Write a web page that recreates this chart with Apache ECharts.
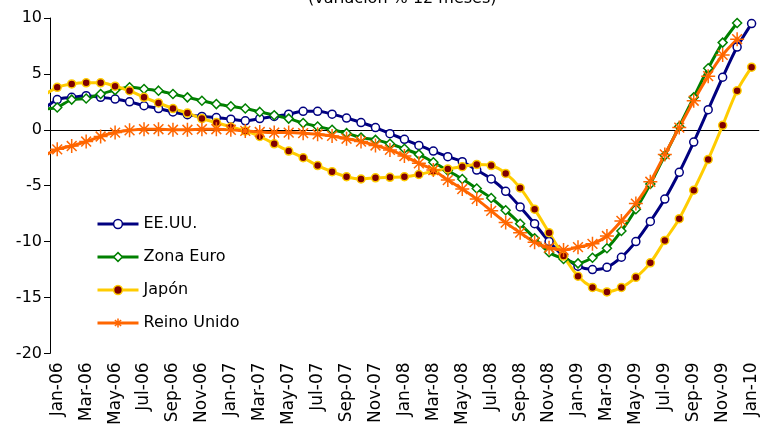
<!DOCTYPE html>
<html>
<head>
<meta charset="utf-8">
<script src="https://cdn.jsdelivr.net/npm/echarts@6/dist/echarts.min.js"></script>
<style>
  html, body { margin: 0; padding: 0; background: #fff; }
  #chart { width: 760px; height: 428px; }
</style>
</head>
<body>
<div id="chart"></div>
<script>
// meses (Dec-05 solo asoma a la izquierda del eje)
const months = [
  'Dec-05',
  'Jan-06', 'Feb-06', 'Mar-06', 'Apr-06', 'May-06', 'Jun-06', 'Jul-06', 'Aug-06', 'Sep-06', 'Oct-06', 'Nov-06', 'Dec-06',
  'Jan-07', 'Feb-07', 'Mar-07', 'Apr-07', 'May-07', 'Jun-07', 'Jul-07', 'Aug-07', 'Sep-07', 'Oct-07', 'Nov-07', 'Dec-07',
  'Jan-08', 'Feb-08', 'Mar-08', 'Apr-08', 'May-08', 'Jun-08', 'Jul-08', 'Aug-08', 'Sep-08', 'Oct-08', 'Nov-08', 'Dec-08',
  'Jan-09', 'Feb-09', 'Mar-09', 'Apr-09', 'May-09', 'Jun-09', 'Jul-09', 'Aug-09', 'Sep-09', 'Oct-09', 'Nov-09', 'Dec-09',
  'Jan-10'
]

const eeuu = [1.8,
  2.7, 2.9, 3.05, 2.9, 2.75, 2.5, 2.15, 1.9, 1.6, 1.35, 1.2, 1.1,
  0.95, 0.8, 1.0, 1.2, 1.4, 1.65, 1.65, 1.4, 1.05, 0.65, 0.2, -0.35,
  -0.85, -1.4, -1.9, -2.4, -2.85, -3.6, -4.4, -5.5, -6.9, -8.4, -10.0, -11.3,
  -12.2, -12.5, -12.3, -11.4, -10.0, -8.2, -6.2, -3.8, -1.1, 1.8, 4.7, 7.4,
  9.5]

const zonaEuro = [1.85,
  2.0, 2.7, 2.8, 3.2, 3.55, 3.8, 3.65, 3.5, 3.2, 2.9, 2.6, 2.3,
  2.1, 1.9, 1.6, 1.3, 1.0, 0.6, 0.3, 0.0, -0.3, -0.7, -0.9, -1.25,
  -1.7, -2.2, -2.9, -3.65, -4.4, -5.25, -6.1, -7.2, -8.4, -9.7, -10.95, -11.55,
  -11.95, -11.45, -10.6, -9.05, -7.1, -4.85, -2.3, 0.3, 2.9, 5.5, 7.8, 9.55,
  null]

const japon = [3.0,
  3.8, 4.1, 4.2, 4.2, 3.9, 3.5, 2.9, 2.4, 1.9, 1.5, 1.0, 0.65,
  0.25, -0.1, -0.6, -1.25, -1.9, -2.5, -3.2, -3.75, -4.2, -4.4, -4.3, -4.25,
  -4.2, -4.0, -3.7, -3.5, -3.3, -3.1, -3.2, -3.9, -5.2, -7.1, -9.2, -11.3,
  -13.1, -14.1, -14.5, -14.1, -13.2, -11.9, -9.9, -7.95, -5.4, -2.65, 0.4, 3.5,
  5.6]

const reinoUnido = [-2.4,
  -1.75, -1.45, -1.05, -0.6, -0.25, -0.05, 0.05, 0.05, 0.0, 0.0, 0.05, 0.05,
  0.0, -0.1, -0.2, -0.25, -0.25, -0.3, -0.4, -0.55, -0.8, -1.05, -1.4, -1.8,
  -2.35, -3.0, -3.6, -4.5, -5.3, -6.2, -7.25, -8.3, -9.2, -10.05, -10.55, -10.75,
  -10.5, -10.2, -9.5, -8.15, -6.6, -4.65, -2.2, 0.2, 2.6, 4.8, 6.7, 8.1,
  null]

const yTicks = { min: -20, max: 10, interval: 5 }

const font = 'DejaVu Sans'
const asterisk = 'path://M5 0L5 10M0 5L10 5M1.5 1.5L8.5 8.5M8.5 1.5L1.5 8.5'

function everyOther(index) {
  return index % 2 === 1
}

function lineSeries(name, data, color, symbol, symbolSize, itemStyle) {
  return {
    name: name,
    type: 'line',
    data: data,
    xAxisIndex: 0,
    smooth: 0.3,
    symbol: symbol,
    symbolSize: symbolSize,
    showAllSymbol: true,
    lineStyle: { color: color, width: 3 },
    itemStyle: itemStyle,
    emphasis: { disabled: true }
  }
}

const chart = echarts.init(document.getElementById('chart'))
chart.setOption({
  animation: false,
  title: {
    text: '(variación % 12 meses)',
    left: 303,
    top: -14,
    textStyle: { fontFamily: font, fontSize: 16, fontWeight: 'normal', color: '#000' }
  },
  grid: { left: 50, top: 18, width: 718, height: 336 },
  legend: {
    orient: 'vertical',
    left: 91,
    top: 211,
    itemWidth: 41,
    itemHeight: 11,
    itemGap: 17,
    itemStyle: { borderWidth: 1.5 },
    lineStyle: { width: 3 },
    textStyle: { fontFamily: font, fontSize: 16, color: '#000' },
    data: ['EE.UU.', 'Zona Euro', 'Japón', 'Reino Unido']
  },
  xAxis: [
    {
      type: 'category',
      data: months,
      min: 1,
      boundaryGap: true,
      position: 'bottom',
      axisLine: { show: false, onZero: false },
      axisTick: { show: false },
      axisLabel: {
        rotate: 90,
        interval: everyOther,
        margin: 9,
        fontFamily: font,
        fontSize: 17,
        color: '#000'
      }
    },
    {
      type: 'category',
      data: months,
      min: 1,
      boundaryGap: true,
      position: 'bottom',
      axisLine: { onZero: true, lineStyle: { color: '#000', width: 1 } },
      axisTick: { interval: everyOther, length: 6, lineStyle: { color: '#000' } },
      axisLabel: { show: false }
    }
  ],
  yAxis: {
    type: 'value',
    min: yTicks.min,
    max: yTicks.max,
    interval: yTicks.interval,
    axisLine: { show: true, lineStyle: { color: '#000', width: 1 } },
    axisTick: { show: true, length: 6, lineStyle: { color: '#000' } },
    splitLine: { show: false },
    axisLabel: { margin: 8, fontFamily: font, fontSize: 16, color: '#000' }
  },
  series: [
    lineSeries('EE.UU.', eeuu, '#000080', 'circle', 8,
      { color: '#fff', borderColor: '#000080', borderWidth: 1.5 }),
    lineSeries('Zona Euro', zonaEuro, '#008000', 'diamond', 9,
      { color: '#fff', borderColor: '#008000', borderWidth: 1.5 }),
    lineSeries('Japón', japon, '#FFCC00', 'circle', 8,
      { color: '#800000', borderColor: '#FFCC00', borderWidth: 1.5 }),
    lineSeries('Reino Unido', reinoUnido, '#FF6600', asterisk, 14,
      { color: '#FF6600', borderColor: '#FF6600', borderWidth: 1.5 })
  ]
})
</script>
</body>
</html>
